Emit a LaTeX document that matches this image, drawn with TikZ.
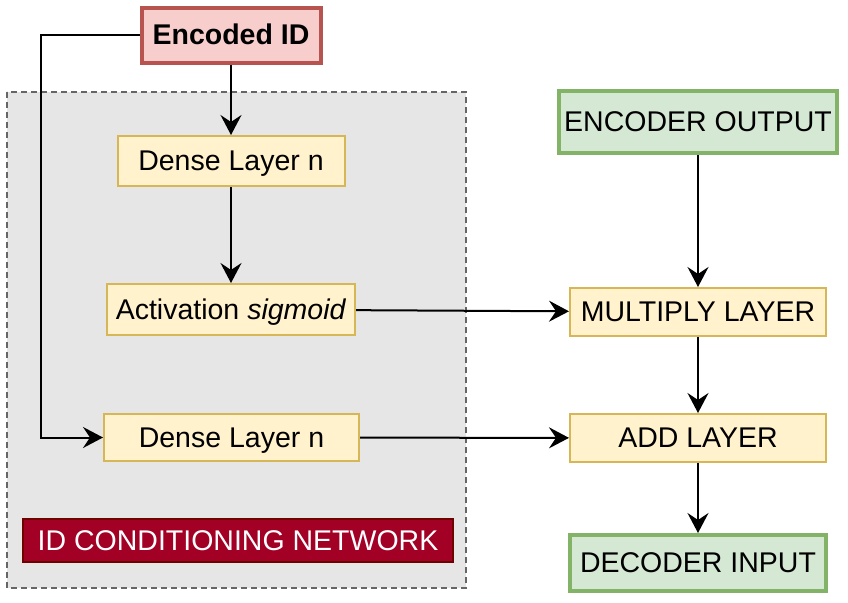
\documentclass[tikz,border=0pt]{standalone}
\usepackage{fontspec}
\setmainfont{Liberation Sans}
\usepackage{tikz}
\usetikzlibrary{arrows.meta}
\definecolor{idfill}{HTML}{F8CECC}
\definecolor{iddraw}{HTML}{B85450}
\definecolor{layerfill}{HTML}{FFF2CC}
\definecolor{layerdraw}{HTML}{D6B656}
\definecolor{iofill}{HTML}{D5E8D4}
\definecolor{iodraw}{HTML}{82B366}
\definecolor{groupfill}{HTML}{E6E6E6}
\definecolor{groupdraw}{HTML}{666666}
\definecolor{tagfill}{HTML}{A20025}
\definecolor{tagdraw}{HTML}{6F0000}

\begin{document}
\begin{tikzpicture}[x=1pt, y=-1pt,
    every node/.style={font=\fontsize{28.5}{32}\selectfont, inner xsep=2pt, inner ysep=0pt, text height=20pt, text depth=1pt},
    layer/.style={draw=layerdraw, fill=layerfill, line width=2pt},
    iobox/.style={draw=iodraw, fill=iofill, line width=4pt},
    flow/.style={line width=2pt, -{Stealth[length=20pt, width=21pt, inset=7pt]}}]
                \useasboundingbox (0,0) rectangle (848,602);

                % Conditioning group
                \draw[groupdraw, fill=groupfill, line width=2pt, dash pattern=on 6pt off 4pt] (7,92) rectangle (466,588);
                \node[draw=tagdraw, fill=tagfill, text=white, line width=2pt, minimum width=430pt, minimum height=43pt] (tag) at (238,540.5) {ID CONDITIONING NETWORK};

                % Input ID
                \node[draw=iddraw, fill=idfill, line width=4pt, minimum width=179pt, minimum height=55pt, font=\fontsize{28.5}{32}\selectfont\bfseries] (encid) at (231,35.5) {Encoded ID};

                % Layers inside the group
                \node[layer, minimum width=227pt, minimum height=50pt] (dense1) at (231,161) {Dense Layer n};
                \node[layer, minimum width=248pt, minimum height=51pt] (act) at (231,309.5) {Activation \textit{sigmoid}};
                \node[layer, minimum width=255pt, minimum height=47pt] (dense2) at (231.5,437.5) {Dense Layer n};

                % Main path
                \node[iobox, minimum width=278pt, minimum height=62pt] (encout) at (698,122) {ENCODER OUTPUT};
                \node[layer, minimum width=256pt, minimum height=48pt] (mult) at (698,312) {MULTIPLY LAYER};
                \node[layer, minimum width=256pt, minimum height=48pt] (add) at (698,438) {ADD LAYER};
                \node[iobox, minimum width=256pt, minimum height=56pt] (dec) at (698,563) {DECODER INPUT};

                % Connectors
                \coordinate (bend) at (41,35.5);
                \draw[flow] (encid) -- (dense1);
                \draw[flow] (encid.west) -- (bend) |- (dense2.west);
                \draw[flow] (dense1) -- (act);
                \draw[flow] (act) -- (mult);
                \draw[flow] (dense2) -- (add);
                \draw[flow] (encout) -- (mult);
                \draw[flow] (mult) -- (add);
                \draw[flow] (add) -- (dec);
            \end{tikzpicture}
\end{document}
